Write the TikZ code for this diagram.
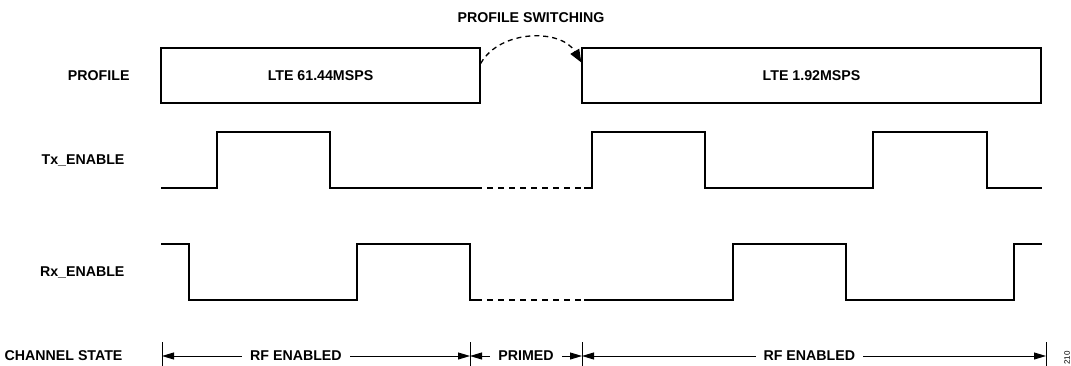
\documentclass[tikz,border=0pt]{standalone}
\usepackage{fontspec}
\setmainfont{Liberation Sans}
\usetikzlibrary{arrows.meta}

\begin{document}
\begin{tikzpicture}[x=1pt,y=-1pt,
  every node/.style={font=\bfseries\fontsize{14.2}{16}\selectfont},
  lbl/.style={anchor=east},
  wave/.style={line width=1.8pt,line join=miter},
  gap/.style={line width=1.8pt,dash pattern=on 6pt off 5pt},
  profbox/.style={draw,line width=1.3pt,minimum height=55pt,inner sep=0pt},
  switcharrow/.style={line width=1.3pt,dash pattern=on 5pt off 4pt,-{Triangle[length=13pt,width=10pt]}},
  statearrow/.style={line width=0.9pt,{Triangle[length=12pt,width=7pt]}-{Triangle[length=12pt,width=7pt]}},
  endmark/.style={line width=0.9pt},
  gaptext/.style={fill=white,inner xsep=8pt,inner ysep=1pt}]
\useasboundingbox (0,0) rectangle (1071,366);

% row labels
\node[lbl] (profile) at (133,76) {PROFILE};
\node[lbl] (tx) at (128,160) {Tx\_ENABLE};
\node[lbl] (rx) at (128,272) {Rx\_ENABLE};
\node[lbl] (chan) at (126,356) {CHANNEL STATE};

% profiles
\node[profbox,minimum width=319pt] (lte1) at (320.5,75.5) {LTE 61.44MSPS};
\node[profbox,minimum width=459pt] (lte2) at (811.5,75.5) {LTE 1.92MSPS};
\node (switch) at (531,18) {PROFILE SWITCHING};
\draw[switcharrow] ([yshift=12pt]lte1.east) to[bend left=60] ([yshift=13pt]lte2.west);

% Tx_ENABLE
\draw[wave] (161,188) -- (217,188) -- (217,132) -- (330,132) -- (330,188) -- (476,188);
\draw[gap] (476,188) -- (584,188);
\draw[wave] (584,188) -- (592,188) -- (592,132) -- (705,132) -- (705,188) -- (873,188)
  -- (873,132) -- (987,132) -- (987,188) -- (1042,188);

% Rx_ENABLE
\draw[wave] (161,244) -- (189,244) -- (189,300) -- (357,300) -- (357,244) -- (470,244)
  -- (470,300) -- (476,300);
\draw[gap] (476,300) -- (584,300);
\draw[wave] (584,300) -- (733,300) -- (733,244) -- (846,244) -- (846,300) -- (1014,300)
  -- (1014,244) -- (1042,244);

% channel state
\foreach \p/\n in {162/s0,470/s1,582/s2,1046/s3} {
  \coordinate (\n) at (\p,356);
  \draw[endmark] (\p,342) -- (\p,366);
}
\draw[statearrow] (s0) -- node[gaptext,pos=0.435] (rf1) {RF ENABLED} (s1);
\draw[statearrow] (s1) -- node[gaptext] (primed) {PRIMED} (s2);
\draw[statearrow] (s2) -- node[gaptext,pos=0.49] (rf2) {RF ENABLED} (s3);

\node[font=\fontsize{8}{9}\selectfont,rotate=90,anchor=east] (fig) at (1067,348) {210};
\end{tikzpicture}
\end{document}
